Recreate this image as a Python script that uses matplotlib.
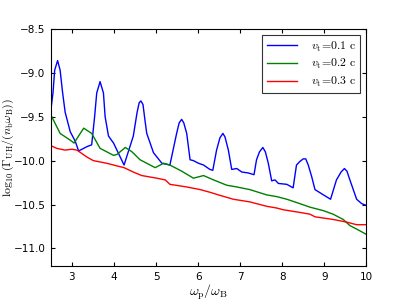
import numpy as np
import matplotlib
matplotlib.use('Agg')
import matplotlib.pyplot as plt

x_v1 = [2.5, 2.55, 2.59, 2.66, 2.72, 2.78, 2.84, 2.96, 3.08, 3.16, 3.36, 3.47, 3.54,
        3.59, 3.67, 3.75, 3.79, 3.87, 3.99, 4.24, 4.46, 4.55, 4.60, 4.64, 4.69, 4.74,
        4.78, 4.94, 5.14, 5.33, 5.49, 5.55, 5.61, 5.66, 5.73, 5.81, 5.89, 6.01, 6.13,
        6.28, 6.35, 6.44, 6.52, 6.59, 6.64, 6.72, 6.80, 6.92, 7.04, 7.19, 7.33, 7.39,
        7.46, 7.54, 7.60, 7.67, 7.75, 7.83, 7.91, 8.11, 8.26, 8.34, 8.42, 8.50, 8.56,
        8.62, 8.70, 8.78, 8.98, 9.15, 9.29, 9.40, 9.48, 9.54, 9.61, 9.77, 9.89, 10.0]
y_v1 = [-9.42, -9.23, -8.97, -8.86, -8.97, -9.23, -9.45, -9.67, -9.78, -9.89, -9.84,
        -9.82, -9.50, -9.23, -9.10, -9.23, -9.50, -9.72, -9.80, -10.05, -9.72, -9.45,
        -9.34, -9.32, -9.36, -9.55, -9.69, -9.91, -10.03, -10.05, -9.69, -9.57, -9.53,
        -9.57, -9.69, -9.99, -10.00, -10.03, -10.05, -10.10, -10.11, -9.88, -9.74,
        -9.69, -9.73, -9.88, -10.10, -10.09, -10.13, -10.14, -10.16, -9.99, -9.90,
        -9.85, -9.90, -10.03, -10.23, -10.22, -10.26, -10.27, -10.31, -10.05, -10.01,
        -9.98, -9.98, -10.05, -10.18, -10.33, -10.39, -10.44, -10.22, -10.13, -10.09,
        -10.12, -10.22, -10.44, -10.49, -10.51]

x_v2 = [2.5, 2.72, 3.0, 3.05, 3.28, 3.47, 3.67, 3.99, 4.07, 4.27, 4.43, 4.62, 4.98,
        5.18, 5.33, 5.61, 5.89, 6.13, 6.37, 6.68, 6.92, 7.23, 7.63, 7.87, 8.11, 8.42,
        8.66, 8.98, 9.21, 9.45, 9.61, 9.81, 10.0]
y_v2 = [-9.48, -9.69, -9.78, -9.80, -9.63, -9.69, -9.86, -9.94, -9.93, -9.85, -9.90,
        -9.99, -10.08, -10.03, -10.05, -10.12, -10.20, -10.17, -10.22, -10.28, -10.30,
        -10.33, -10.39, -10.41, -10.44, -10.49, -10.53, -10.57, -10.61, -10.67, -10.74,
        -10.79, -10.84]

x_v3 = [2.5, 2.64, 2.84, 3.0, 3.12, 3.36, 3.51, 3.83, 4.07, 4.24, 4.46, 4.66, 5.02,
        5.22, 5.33, 5.73, 6.05, 6.28, 6.48, 6.84, 7.23, 7.63, 7.87, 8.03, 8.42, 8.66,
        8.78, 9.21, 9.53, 9.77, 10.0]
y_v3 = [-9.83, -9.86, -9.88, -9.87, -9.88, -9.96, -10.00, -10.03, -10.06, -10.08,
        -10.13, -10.17, -10.20, -10.22, -10.27, -10.30, -10.33, -10.36, -10.39, -10.44,
        -10.47, -10.52, -10.54, -10.56, -10.59, -10.61, -10.64, -10.67, -10.70, -10.73,
        -10.73]

plt.rcParams['mathtext.fontset'] = 'cm'
plt.rcParams['font.size'] = 7.5

fig = plt.figure(figsize=(4.07, 3.05), dpi=100, facecolor='white')
ax = fig.add_axes([0.125, 0.128, 0.775, 0.777])

ax.plot(x_v1, y_v1, color='blue', lw=1.0, label=r'$v_{\rm t}\!=\!0.1\ {\rm c}$')
ax.plot(x_v2, y_v2, color='green', lw=1.0, label=r'$v_{\rm t}\!=\!0.2\ {\rm c}$')
ax.plot(x_v3, y_v3, color='red', lw=1.0, label=r'$v_{\rm t}\!=\!0.3\ {\rm c}$')

ax.set_xlim(2.5, 10)
ax.set_ylim(-11.2, -8.5)
ax.set_xticks(np.arange(3, 11, 1))
ax.set_yticks(np.arange(-11.0, -8.4, 0.5))
ax.tick_params(direction='in', top=True, right=True, labelsize=7.5, length=3, pad=4)
for s in ax.spines.values():
    s.set_linewidth(0.8)

ax.set_xlabel(r'$\omega_{\rm p}/\omega_{\rm B}$', fontsize=10, labelpad=1)
ax.set_ylabel(r'$\log_{10}(\Gamma_{\rm UH}/(n_{\rm b}\omega_{\rm B}))$', fontsize=8.5)
ax.yaxis.set_label_coords(-0.111, 0.5)

leg = ax.legend(loc='upper right', fontsize=8.5, fancybox=False, handlelength=2.5,
                borderpad=0.4, labelspacing=0.3, handletextpad=1.2)
leg.get_frame().set_edgecolor('black')
leg.get_frame().set_linewidth(0.8)

fig.savefig('out.png', dpi=100, facecolor='white')
